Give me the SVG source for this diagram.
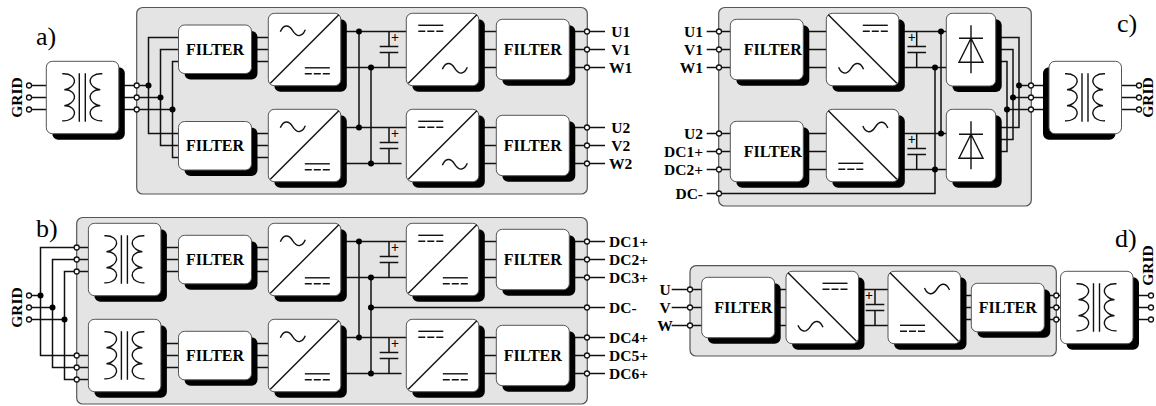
<svg xmlns="http://www.w3.org/2000/svg" width="1156" height="406" viewBox="0 0 1156 406">
<style>
text{font-family:"Liberation Serif","Times New Roman",serif;fill:#000;opacity:.99}
.t{font-weight:bold;font-size:15.5px}
.f{font-weight:bold;font-size:16px;text-anchor:middle}
.m{text-anchor:middle}
.e{text-anchor:end}
.h{font-size:26px}
.p{font-weight:bold;font-size:14px;text-anchor:middle}
.panel{fill:#e4e4e4;stroke:#555;stroke-width:1.2}
.s{fill:#000}
.b{fill:#fff;stroke:#555;stroke-width:1}
.l{fill:none;stroke:#111;stroke-width:1.5}
.g{fill:none;stroke:#111;stroke-width:1.4}
.o{fill:#fff;stroke:#111;stroke-width:1.3}
.d{fill:#000}
</style>
<defs>
<g id="xf" class="g">
<path d="M16 12.5C24 12 29 16 28 21C27 25 22 28 18 28.5C24 28 29 32 28 37C27 41 22 44 18 44.5C24 44 29 48 28 53C27 57 22 60 16 59.5"/>
<path d="M56 12.5C48 12 43 16 44 21C45 25 50 28 54 28.5C48 28 43 32 44 37C45 41 50 44 54 44.5C48 44 43 48 44 53C45 57 50 60 56 59.5"/>
<path d="M33 12V60.5M39 12V60.5"/>
</g>
<path id="sin" class="g" d="M0 1C3 -6 8 -7 12.5 0C17 7 22 6 25 -1"/>
<path id="sinb" class="g" d="M0 -1C3 6 8 7 12.5 0C17 -7 22 -6 25 1"/>
<g id="dc" class="g"><path d="M0 0H25"/><path d="M0 6H25" stroke-dasharray="7 2"/></g>
<path id="ua" class="g" d="M2 70L70.5 1.5"/>
<path id="ub" class="g" d="M2 1.5L70.5 70"/>
<g id="cap" class="l"><path d="M0 0V15M-9.3 15H9.3M-9.3 21H9.3M0 21V36"/></g>
<g id="diode" class="g"><path d="M0 0V48M-12 13H12M0 13L-12 37H12Z"/></g>
<g id="f48"><rect class="s" x="6" y="6" width="73" height="48.5" rx="6"/><rect class="b" width="73" height="48.5" rx="6"/></g>
<g id="f60"><rect class="s" x="6" y="6" width="73" height="60.4" rx="6"/><rect class="b" width="73" height="60.4" rx="6"/></g>
<g id="box"><rect class="s" x="6" y="6" width="72.5" height="72.4" rx="6"/><rect class="b" width="72.5" height="72.4" rx="6"/></g>
<g id="boxl"><rect class="s" x="-6" y="6" width="72.5" height="72.4" rx="6"/><rect class="b" width="72.5" height="72.4" rx="6"/></g>
</defs>

<rect id="panel-a" class="panel" x="136.7" y="7.5" width="450.6" height="186.5" rx="6"/>
<rect id="panel-b" class="panel" x="76.7" y="217.5" width="510.6" height="186.5" rx="6"/>
<rect id="panel-c" class="panel" x="718.7" y="7.5" width="312.6" height="198.5" rx="6"/>
<rect id="panel-d" class="panel" x="690" y="265.7" width="366.3" height="90.3" rx="6"/>

<g id="connectors">
<g id="conn-a" class="l">
<path d="M29 85.5H148.5M29 97.5H160.5M29 109.5H172.5"/>
<path d="M178.5 37.5H148.5V133.5H178.5M178.5 49.5H160.5V145.5H178.5M178.5 61.5H172.5V157.5H178.5"/>
<path d="M251 37.5H268.5M251 49.5H268.5M251 61.5H268.5M251 133.5H268.5M251 145.5H268.5M251 157.5H268.5"/>
<path d="M340 31.5H406.5M340 67.5H406.5M340 127.5H406.5M340 163.5H401.5M359 31.5V127.5M371 67.5V163.5"/>
<path d="M478 31.5H497M478 49.5H497M478 67.5H497M478 127.5H497M478 145.5H497M478 163.5H497"/>
<path d="M569 31.5H605M569 49.5H605M569 67.5H605M569 127.5H605M569 145.5H605M569 163.5H605"/>
</g>
<g id="conn-b" class="l">
<path d="M29 295.5H40.5M29 307.5H52.5M29 319.5H64.5"/>
<path d="M88.5 247.5H40.5V355.5H88.5M88.5 259.5H52.5V367.5H88.5M88.5 271.5H64.5V379.5H88.5"/>
<path d="M161 247.5H178.5M161 259.5H178.5M161 271.5H178.5M161 343.5H178.5M161 355.5H178.5M161 367.5H178.5"/>
<path d="M251 247.5H268.5M251 259.5H268.5M251 271.5H268.5M251 343.5H268.5M251 355.5H268.5M251 367.5H268.5"/>
<path d="M340 241.5H406.5M340 277.5H406.5M340 337.5H406.5M340 373.5H401.5M359 241.5V337.5M371 277.5V373.5M371 307.5H605"/>
<path d="M478 241.5H497M478 259.5H497M478 277.5H497M478 337.5H497M478 355.5H497M478 373.5H497"/>
<path d="M569 241.5H605M569 259.5H605M569 277.5H605M569 337.5H605M569 355.5H605M569 373.5H605"/>
</g>
<g id="conn-c" class="l">
<path d="M706.7 31.5H731M706.7 49.5H731M706.7 67.5H731M706.7 133.5H731M706.7 151.5H731M706.7 169.5H731M706.7 193.5H935V67.5"/>
<path d="M803 31.5H827M803 49.5H827M803 67.5H827M803 133.5H827M803 151.5H827M803 169.5H827"/>
<path d="M899 31.5H947M899 67.5H947M899 133.5H947M899 169.5H947M941 31.5V133.5"/>
<path d="M995 37.5H1019V127.5H995M995 49.5H1013V139.5H995M995 61.5H1007V151.5H995"/>
<path d="M1007 109.5H1049M1013 97.5H1049M1019 85.5H1049"/>
<path d="M1121 85.5H1139M1121 97.5H1139M1121 109.5H1139"/>
</g>
<g id="conn-d" class="l">
<path d="M671.7 289.5H702M671.7 307.5H702M671.7 325.5H702"/>
<path d="M774.5 289.5H786.5M774.5 307.5H786.5M774.5 325.5H786.5"/>
<path d="M858 289.5H888.5M858 325.5H888.5"/>
<path d="M960 295.5H971.5M960 307.5H971.5M960 319.5H971.5"/>
<path d="M1044 295.5H1061M1044 307.5H1061M1044 319.5H1061"/>
<path d="M1133 295.5H1151M1133 307.5H1151M1133 319.5H1151"/>
</g>
<g id="caps">
<use href="#cap" x="389" y="31.5"/><use href="#cap" x="389" y="127.5"/>
<use href="#cap" x="389" y="241.5"/><use href="#cap" x="389" y="337.5"/>
<use href="#cap" x="916.7" y="31.5"/><use href="#cap" x="916.7" y="133.5"/>
<use href="#cap" x="875" y="289.5"/>
</g>
<g id="dots" class="d">
<circle cx="148.5" cy="85.5" r="3"/><circle cx="160.5" cy="97.5" r="3"/><circle cx="172.5" cy="109.5" r="3"/>
<circle cx="359" cy="31.5" r="3"/><circle cx="371" cy="67.5" r="3"/><circle cx="359" cy="127.5" r="3"/><circle cx="371" cy="163.5" r="3"/>
<circle cx="40.5" cy="295.5" r="3"/><circle cx="52.5" cy="307.5" r="3"/><circle cx="64.5" cy="319.5" r="3"/>
<circle cx="359" cy="241.5" r="3"/><circle cx="371" cy="277.5" r="3"/><circle cx="371" cy="307.5" r="3"/><circle cx="359" cy="337.5" r="3"/><circle cx="371" cy="373.5" r="3"/>
<circle cx="941" cy="31.5" r="3"/><circle cx="935" cy="67.5" r="3"/><circle cx="941" cy="133.5" r="3"/><circle cx="935" cy="169.5" r="3"/>
<circle cx="1019" cy="85.5" r="3"/><circle cx="1013" cy="97.5" r="3"/><circle cx="1007" cy="109.5" r="3"/>
</g>
<g id="terminals" class="o">
<circle cx="29" cy="85.5" r="2.5"/><circle cx="29" cy="97.5" r="2.5"/><circle cx="29" cy="109.5" r="2.5"/>
<circle cx="136.7" cy="85.5" r="2.5"/><circle cx="136.7" cy="97.5" r="2.5"/><circle cx="136.7" cy="109.5" r="2.5"/>
<circle cx="587" cy="31.5" r="2.5"/><circle cx="587" cy="49.5" r="2.5"/><circle cx="587" cy="67.5" r="2.5"/><circle cx="587" cy="127.5" r="2.5"/><circle cx="587" cy="145.5" r="2.5"/><circle cx="587" cy="163.5" r="2.5"/>
<circle cx="29" cy="295.5" r="2.5"/><circle cx="29" cy="307.5" r="2.5"/><circle cx="29" cy="319.5" r="2.5"/>
<circle cx="76.7" cy="247.5" r="2.5"/><circle cx="76.7" cy="259.5" r="2.5"/><circle cx="76.7" cy="271.5" r="2.5"/><circle cx="76.7" cy="355.5" r="2.5"/><circle cx="76.7" cy="367.5" r="2.5"/><circle cx="76.7" cy="379.5" r="2.5"/>
<circle cx="587" cy="241.5" r="2.5"/><circle cx="587" cy="259.5" r="2.5"/><circle cx="587" cy="277.5" r="2.5"/><circle cx="587" cy="307.5" r="2.5"/><circle cx="587" cy="337.5" r="2.5"/><circle cx="587" cy="355.5" r="2.5"/><circle cx="587" cy="373.5" r="2.5"/>
<circle cx="719" cy="31.5" r="2.5"/><circle cx="719" cy="49.5" r="2.5"/><circle cx="719" cy="67.5" r="2.5"/><circle cx="719" cy="133.5" r="2.5"/><circle cx="719" cy="151.5" r="2.5"/><circle cx="719" cy="169.5" r="2.5"/><circle cx="719" cy="193.5" r="2.5"/>
<circle cx="1031" cy="85.5" r="2.5"/><circle cx="1031" cy="97.5" r="2.5"/><circle cx="1031" cy="109.5" r="2.5"/>
<circle cx="1139" cy="85.5" r="2.5"/><circle cx="1139" cy="97.5" r="2.5"/><circle cx="1139" cy="109.5" r="2.5"/>
<circle cx="690" cy="289.5" r="2.5"/><circle cx="690" cy="307.5" r="2.5"/><circle cx="690" cy="325.5" r="2.5"/>
<circle cx="1056.3" cy="295.5" r="2.5"/><circle cx="1056.3" cy="307.5" r="2.5"/><circle cx="1056.3" cy="319.5" r="2.5"/>
<circle cx="1151" cy="295.5" r="2.5"/><circle cx="1151" cy="307.5" r="2.5"/><circle cx="1151" cy="319.5" r="2.5"/>
</g>
</g>

<!-- panel a -->
<g id="a-xf" transform="translate(46.3 61.3)"><use href="#box"/><use href="#xf"/></g>
<g id="a-f1" transform="translate(178.5 25)"><use href="#f48"/><text class="f" x="36.5" y="30">FILTER</text></g>
<g id="a-f2" transform="translate(178.5 121.5)"><use href="#f48"/><text class="f" x="36.5" y="29.5">FILTER</text></g>
<g id="a-u1" transform="translate(268.3 13.3)"><use href="#box"/><use href="#ua"/><use href="#sin" x="12" y="17.5"/><use href="#dc" x="36.5" y="54.5"/></g>
<g id="a-u2" transform="translate(268.3 109.3)"><use href="#box"/><use href="#ua"/><use href="#sin" x="12" y="17.5"/><use href="#dc" x="36.5" y="54.5"/></g>
<g id="a-u3" transform="translate(406.3 13.3)"><use href="#box"/><use href="#ua"/><use href="#dc" x="12" y="12"/><use href="#sin" x="36" y="55"/></g>
<g id="a-u4" transform="translate(406.3 109.3)"><use href="#box"/><use href="#ua"/><use href="#dc" x="12" y="12"/><use href="#sin" x="36" y="55"/></g>
<g id="a-f3" transform="translate(496.3 19.3)"><use href="#f60"/><text class="f" x="36.5" y="35.5">FILTER</text></g>
<g id="a-f4" transform="translate(496.3 115.3)"><use href="#f60"/><text class="f" x="36.5" y="35.5">FILTER</text></g>

<!-- panel b -->
<g id="b-x1" transform="translate(88.4 223.3)"><use href="#box"/><use href="#xf"/></g>
<g id="b-x2" transform="translate(88.4 319.3)"><use href="#box"/><use href="#xf"/></g>
<g id="b-f1" transform="translate(178.5 235.3)"><use href="#f48"/><text class="f" x="36.5" y="29.5">FILTER</text></g>
<g id="b-f2" transform="translate(178.5 331.3)"><use href="#f48"/><text class="f" x="36.5" y="29.5">FILTER</text></g>
<g id="b-u1" transform="translate(268.3 223.3)"><use href="#box"/><use href="#ua"/><use href="#sin" x="12" y="17.5"/><use href="#dc" x="36.5" y="54.5"/></g>
<g id="b-u2" transform="translate(268.3 319.3)"><use href="#box"/><use href="#ua"/><use href="#sin" x="12" y="17.5"/><use href="#dc" x="36.5" y="54.5"/></g>
<g id="b-u3" transform="translate(406.3 223.3)"><use href="#box"/><use href="#ua"/><use href="#dc" x="12" y="12"/><use href="#dc" x="36.5" y="54.5"/></g>
<g id="b-u4" transform="translate(406.3 319.3)"><use href="#box"/><use href="#ua"/><use href="#dc" x="12" y="12"/><use href="#dc" x="36.5" y="54.5"/></g>
<g id="b-f3" transform="translate(496.3 229.3)"><use href="#f60"/><text class="f" x="36.5" y="35.5">FILTER</text></g>
<g id="b-f4" transform="translate(496.3 325.3)"><use href="#f60"/><text class="f" x="36.5" y="35.5">FILTER</text></g>

<!-- panel c -->
<g id="c-f1" transform="translate(730.3 19.3)"><use href="#f60"/><text class="f" x="42.5" y="35.5">FILTER</text></g>
<g id="c-f2" transform="translate(730.3 121.3)"><use href="#f60"/><text class="f" x="42.5" y="35.5">FILTER</text></g>
<g id="c-u1" transform="translate(826.3 13.3)"><use href="#box"/><use href="#ub"/><use href="#dc" x="36.5" y="12"/><use href="#sinb" x="12.3" y="55"/></g>
<g id="c-u2" transform="translate(826.3 109.3)"><use href="#box"/><use href="#ub"/><use href="#sinb" x="36.5" y="17.7"/><use href="#dc" x="12" y="54"/></g>
<g id="c-r1" transform="translate(946.3 13.3)"><rect class="s" x="6" y="6" width="49.4" height="72.7" rx="6"/><rect class="b" width="49.4" height="72.7" rx="6"/><use href="#diode" x="24.7" y="12"/></g>
<g id="c-r2" transform="translate(946.3 109.3)"><rect class="s" x="6" y="6" width="49.4" height="72.4" rx="6"/><rect class="b" width="49.4" height="72.4" rx="6"/><use href="#diode" x="24.7" y="12"/></g>
<g id="c-xf" transform="translate(1049 61.3)"><use href="#boxl"/><use href="#xf"/></g>

<!-- panel d -->
<g id="d-f1" transform="translate(701.7 277.3)"><use href="#f60"/><text class="f" x="41.5" y="35.5">FILTER</text></g>
<g id="d-u1" transform="translate(786 271.3)"><use href="#box"/><use href="#ub"/><use href="#dc" x="36.5" y="12"/><use href="#sinb" x="12" y="55"/></g>
<g id="d-u2" transform="translate(888 271.3)"><use href="#box"/><use href="#ub"/><use href="#sinb" x="36.5" y="17.7"/><use href="#dc" x="12" y="54"/></g>
<g id="d-f2" transform="translate(971.3 283.3)"><use href="#f48"/><text class="f" x="36.5" y="29.5">FILTER</text></g>
<g id="d-xf" transform="translate(1060.5 271.3)"><use href="#box"/><use href="#xf"/></g>

<g id="labels">
<text class="h" x="36" y="45">a)</text>
<text class="h" x="36" y="236.7">b)</text>
<text class="h" x="1117" y="31.7">c)</text>
<text class="h" x="1115" y="247.3">d)</text>
<text class="t m" transform="translate(21.5 97.5) rotate(-90)">GRID</text>
<text class="t m" transform="translate(21.5 307.5) rotate(-90)">GRID</text>
<text class="t m" transform="translate(1152.5 97.5) rotate(-90)">GRID</text>
<text class="t m" transform="translate(1152.5 265.5) rotate(-90)">GRID</text>
<text class="t m" x="620.7" y="36.7">U1</text><text class="t m" x="620.7" y="54.7">V1</text><text class="t m" x="620.7" y="72.7">W1</text>
<text class="t m" x="620.7" y="132.7">U2</text><text class="t m" x="620.7" y="150.7">V2</text><text class="t m" x="620.7" y="168.7">W2</text>
<text class="t" x="609" y="246.7">DC1+</text><text class="t" x="609" y="264.7">DC2+</text><text class="t" x="609" y="282.7">DC3+</text>
<text class="t" x="609" y="312.7">DC-</text>
<text class="t" x="609" y="342.7">DC4+</text><text class="t" x="609" y="360.7">DC5+</text><text class="t" x="609" y="378.7">DC6+</text>
<text class="t e" x="703" y="36.7">U1</text><text class="t e" x="703" y="54.7">V1</text><text class="t e" x="703" y="72.7">W1</text>
<text class="t e" x="703" y="138.7">U2</text><text class="t e" x="703" y="156.7">DC1+</text><text class="t e" x="703" y="174.7">DC2+</text>
<text class="t e" x="703" y="198.7">DC-</text>
<text class="t m" x="665" y="295">U</text><text class="t m" x="665" y="313">V</text><text class="t m" x="665" y="331">W</text>
</g>
<g id="plus">
<text class="p" x="395" y="42">+</text><text class="p" x="395" y="138">+</text>
<text class="p" x="395" y="252">+</text><text class="p" x="395" y="348">+</text>
<text class="p" x="911.7" y="42">+</text><text class="p" x="911.7" y="144">+</text>
<text class="p" x="869" y="300">+</text>
</g>
</svg>
